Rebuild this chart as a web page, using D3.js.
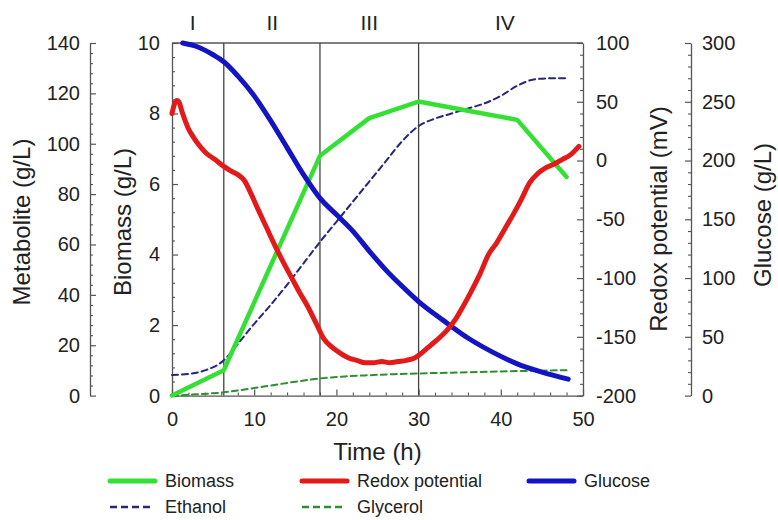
<!DOCTYPE html>
<html>
<head>
<meta charset="utf-8">
<script src="https://cdn.jsdelivr.net/npm/d3@7"></script>
<style>
  body { margin: 0; background: #fff; }
  text { font-family: "Liberation Sans", Arial, Helvetica, sans-serif; fill: #222; }
</style>
</head>
<body>
<svg id="chart" width="778" height="520"></svg>
<script>
// ---------------- data ----------------
const timeTicks = [0, 10, 20, 30, 40, 50];
const biomassTicks = [0, 2, 4, 6, 8, 10];
const metaboliteTicks = [0, 20, 40, 60, 80, 100, 120, 140];
const redoxTicks = [-200, -150, -100, -50, 0, 50, 100];
const glucoseTicks = [0, 50, 100, 150, 200, 250, 300];

const phaseBounds = [6.3, 18, 30];
const phaseLabels = ["I", "II", "III", "IV"];
const phaseLabelTimes = [2.5, 12.2, 24, 40.5];

const biomassTime = [0, 6.3, 18, 24, 30, 36, 42, 48];
const biomassVal  = [0, 0.72, 6.8, 7.87, 8.34, 8.08, 7.82, 6.2];

const redoxTime = [0, 0.3, 0.6, 0.9, 1.2, 1.6, 2.0, 2.6, 3.3, 4.2, 5.2, 6.3, 7.2, 8.0, 8.8, 9.6, 10.5, 11.5, 12.5, 13.5, 14.5, 15.5, 16.5, 17.5, 18.5, 19.5, 20.5, 21.5, 22.5, 23.5, 24.5, 25.5, 26.5, 27.5, 28.5, 29.5, 30.5, 31.5, 32.5, 33.5, 34.5, 35.5, 36.5, 37.5, 38.5, 39.5, 40.5, 41.5, 42.5, 43.5, 44.5, 45.5, 46.5, 47.5, 48.5, 49.5];
const redoxVal  = [40, 48, 51, 49, 42, 34, 27, 20, 13, 6, 1, -5, -9, -12, -17, -28, -42, -57, -72, -86, -99, -112, -124, -138, -152, -159, -164, -168, -170, -172, -172, -171, -172, -171, -170, -168, -163, -157, -151, -144, -135, -123, -110, -96, -80, -70, -58, -46, -33, -19, -11, -6, -3, 1, 5, 12];

const glucoseTime = [1.3, 3, 5, 6.3, 8, 10, 12, 14, 16, 18, 20, 22, 24, 26, 28, 30, 33, 36, 39, 42, 45, 48.2];
const glucoseVal  = [300, 297, 290, 284, 272, 255, 234, 211, 188, 168, 154, 140, 123, 107, 93, 80, 64, 49, 37, 27, 20, 14];

const ethanolTime = [0, 2, 4, 6.3, 8, 10, 12, 14, 16, 18, 20, 22, 24, 26, 28, 30, 32, 34, 36, 38, 40, 42, 44, 46, 48];
const ethanolVal  = [8.2, 8.6, 10, 14, 20.5, 28.5, 36, 44, 52.5, 61, 69, 77, 85, 93, 101, 107, 110, 112, 114, 116, 119, 123, 125.5, 126, 126];

const glycerolTime = [0, 3, 6.3, 9, 12, 15, 18, 21, 24, 27, 30, 35, 40, 45, 48];
const glycerolVal  = [0, 0.5, 1.3, 2.5, 4, 5.5, 6.8, 7.6, 8.1, 8.5, 8.8, 9.2, 9.6, 9.9, 10.1];

const legendNames = ["Biomass", "Redox potential", "Glucose", "Ethanol", "Glycerol"];

// ---------------- layout ----------------
const svg = d3.select("#chart");
const L = 172, R = 583, T = 43, B = 395.6;
const metX = 90, gluX = 691;
const axisColor = "#555";

const x = d3.scaleLinear().domain([0, 50]).range([L, R]);
const yBio = d3.scaleLinear().domain([0, 10]).range([B, T]);
const yMet = d3.scaleLinear().domain([0, 140]).range([B, T]);
const yRed = d3.scaleLinear().domain([-200, 100]).range([B, T]);
const yGlu = d3.scaleLinear().domain([0, 300]).range([B, T]);

function minorTicks(major, n) {
  const out = [];
  for (let i = 0; i < major.length - 1; i++) {
    const a = major[i], b = major[i + 1];
    for (let k = 1; k < n; k++) out.push(a + (b - a) * k / n);
  }
  return out;
}

function styleAxis(g) {
  g.selectAll(".domain").attr("stroke", axisColor).attr("stroke-width", 1.3);
  g.selectAll(".tick line").attr("stroke", axisColor).attr("stroke-width", 1.2);
  g.selectAll(".tick text").style("font-size", "20px").attr("fill", "#222");
}

function addAxis(axisFn, scale, major, tx, ty, pad) {
  const gMinor = svg.append("g").attr("transform", `translate(${tx},${ty})`)
    .call(axisFn(scale).tickValues(minorTicks(major, 5)).tickSizeInner(-3).tickSizeOuter(0).tickFormat(""));
  gMinor.select(".domain").remove();
  gMinor.selectAll(".tick line").attr("stroke", axisColor).attr("stroke-width", 1.1);
  const g = svg.append("g").attr("transform", `translate(${tx},${ty})`)
    .call(axisFn(scale).tickValues(major).tickSizeInner(-6).tickSizeOuter(0)
      .tickPadding(pad).tickFormat(d => String(d)));
  styleAxis(g);
  return g;
}

// top border
svg.append("line").attr("x1", L).attr("x2", R).attr("y1", T).attr("y2", T)
  .attr("stroke", axisColor).attr("stroke-width", 1.3);

// axes
addAxis(d3.axisBottom, x, timeTicks, 0, B, 16);
addAxis(d3.axisLeft, yBio, biomassTicks, L, 0, 12);
addAxis(d3.axisLeft, yMet, metaboliteTicks, metX, 0, 10);
addAxis(d3.axisRight, yRed, redoxTicks, R, 0, 13);
addAxis(d3.axisRight, yGlu, glucoseTicks, gluX, 0, 11);

// phase separators
svg.append("g").selectAll("line").data(phaseBounds).join("line")
  .attr("x1", d => x(d)).attr("x2", d => x(d)).attr("y1", T).attr("y2", B)
  .attr("stroke", "#444").attr("stroke-width", 1.3);

svg.append("g").selectAll("text").data(phaseLabels).join("text")
  .attr("x", (d, i) => x(phaseLabelTimes[i])).attr("y", 30)
  .attr("text-anchor", "middle").style("font-size", "21px").text(d => d);

// axis titles
function vTitle(txt, cx, cy) {
  svg.append("text").attr("transform", `translate(${cx},${cy}) rotate(-90)`)
    .attr("text-anchor", "middle").attr("dy", "0.35em").style("font-size", "24px").text(txt);
}
vTitle("Metabolite (g/L)", 22, 222);
vTitle("Biomass (g/L)", 123, 222);
vTitle("Redox potential (mV)", 659, 219);
vTitle("Glucose (g/L)", 763, 215);
svg.append("text").attr("x", (L + R) / 2).attr("y", 452).attr("dy", "0.35em")
  .attr("text-anchor", "middle").style("font-size", "24px").text("Time (h)");

// ---------------- series ----------------
const styles = {
  Biomass: { color: "#35e035", width: 4.5, dash: null },
  "Redox potential": { color: "#e21a1a", width: 5, dash: null },
  Glucose: { color: "#1414c4", width: 5, dash: null },
  Ethanol: { color: "#26267c", width: 2, dash: "6,4" },
  Glycerol: { color: "#2f8f2f", width: 2, dash: "6,4" }
};

function drawSeries(times, vals, yScale, name, curve) {
  const st = styles[name];
  const line = d3.line().x(d => x(d[0])).y(d => yScale(d[1])).curve(curve);
  svg.append("path").datum(times.map((t, i) => [t, vals[i]]))
    .attr("d", line).attr("fill", "none")
    .attr("stroke", st.color).attr("stroke-width", st.width)
    .attr("stroke-linejoin", "round").attr("stroke-linecap", "round")
    .attr("stroke-dasharray", st.dash);
}

drawSeries(glycerolTime, glycerolVal, yMet, "Glycerol", d3.curveMonotoneX);
drawSeries(ethanolTime, ethanolVal, yMet, "Ethanol", d3.curveMonotoneX);
drawSeries(biomassTime, biomassVal, yBio, "Biomass", d3.curveLinear);
drawSeries(glucoseTime, glucoseVal, yGlu, "Glucose", d3.curveMonotoneX);
drawSeries(redoxTime, redoxVal, yRed, "Redox potential", d3.curveMonotoneX);

// ---------------- legend ----------------
const legendPos = [[110, 481], [302, 481], [529, 481], [110, 507], [302, 507]];
legendNames.forEach((name, i) => {
  const st = styles[name];
  const [lx, ly] = legendPos[i];
  const solid = !st.dash;
  svg.append("line").attr("x1", lx).attr("x2", lx + (solid ? 45 : 42)).attr("y1", ly).attr("y2", ly)
    .attr("stroke", st.color).attr("stroke-width", solid ? 5 : 2.5)
    .attr("stroke-linecap", solid ? "round" : "butt")
    .attr("stroke-dasharray", solid ? null : "7,4");
  svg.append("text").attr("x", lx + 55).attr("y", ly).attr("dy", "0.35em")
    .style("font-size", "18px").text(name);
});
</script>
</body>
</html>
